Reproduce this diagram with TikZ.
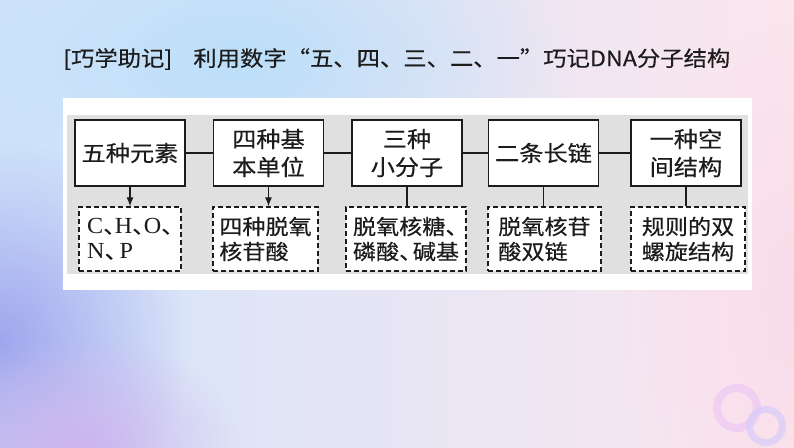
\documentclass[tikz,border=0pt]{standalone}
\usepackage{fontspec}
\newfontfamily\hanzi[FakeStretch=1.1, FakeBold=0.4]{Noto Sans CJK SC}
\newfontfamily\latin[FakeStretch=1.05]{Liberation Serif}
\usepackage{xcolor}
\usetikzlibrary{arrows.meta, positioning, calc, fadings}

\definecolor{inkline}{HTML}{1C1C1C}
\definecolor{panelgray}{HTML}{E0E0E0}
\definecolor{bgleft}{HTML}{D2E5FB}
\definecolor{bgmid}{HTML}{E2EFFC}
\definecolor{bgright}{HTML}{FCE6EE}
\definecolor{bgblue}{HTML}{BCDFFA}
\definecolor{bgviolet}{HTML}{A0A6EE}
\definecolor{bgrose}{HTML}{CDB4EE}
\definecolor{bgpink}{HTML}{F9DCEA}
\definecolor{ringpink}{HTML}{EFC8F5}
\definecolor{ringviolet}{HTML}{D8CCFA}

\tikzfading[name=softglow, inner color=transparent!0, outer color=transparent!100]
\newcommand\dun{、\kern-.45em}
\newcommand\ldun{、\kern-.55em}
\newcommand\el[1]{{\latin\fontsize{23}{25}\selectfont #1}}

\begin{document}
\begin{tikzpicture}[x=1pt, y=-1pt,
    mainbox/.style={draw=inkline, line width=1.3pt, fill=white, minimum width=110pt,
        minimum height=66pt, inner sep=2pt, align=center, text=inkline,
        font=\hanzi\fontsize{22}{28}\selectfont},
    notebox/.style={draw=inkline, line width=1.3pt, dash pattern=on 5pt off 3pt,
        fill=white, minimum height=64pt, inner sep=2pt, align=left, text=inkline,
        font=\hanzi\fontsize{21}{25}\selectfont},
    link/.style={draw=inkline, line width=1.1pt}]
    \useasboundingbox (0,0) rectangle (794,447);
    \begin{scope}
        \clip (0,0) rectangle (794,447);
        \shade[left color=bgleft, middle color=bgmid, right color=bgright] (0,0) rectangle (794,447);
        \fill[bgblue, path fading=softglow] (240,60) ellipse [x radius=330pt, y radius=190pt];
        \fill[bgviolet, path fading=softglow] (0,340) ellipse [x radius=190pt, y radius=200pt];
        \fill[bgrose, path fading=softglow] (80,447) ellipse [x radius=160pt, y radius=110pt];
        \fill[bgpink, path fading=softglow] (794,300) ellipse [x radius=170pt, y radius=280pt];
    \end{scope}
    \draw[ringpink, line width=8pt, opacity=.7] (737,408) circle[radius=20pt];
    \draw[ringviolet, line width=7pt, opacity=.7] (766,426) circle[radius=16.5pt];

    \node[anchor=west, inner sep=0pt, text=inkline, font=\hanzi\fontsize{21.2}{25}\selectfont] (title) at (63,59)
        {[巧学助记]\hspace{1em}利用数字“五、四、三、二、一”巧记DNA分子结构};

    \fill[white] (63,98) rectangle (752,290);
    \fill[panelgray] (67,115) rectangle (748,274);

    \node[mainbox] (elem) at (130,153) {五种元素};
    \node[mainbox] (unit) at (268.5,153) {四种基\\本单位};
    \node[mainbox] (small) at (407,153) {三种\\小分子};
    \node[mainbox] (chain) at (543.5,153) {二条长链};
    \node[mainbox] (space) at (686,153) {一种空\\间结构};

    \node[notebox, minimum width=102pt] (elemnote) at (130,239)
        {\el{C}\ldun\el{H}\ldun\el{O}\ldun\\\el{N}\ldun\,\el{P}};
    \node[notebox, minimum width=105pt] (unitnote) at (265.5,239) {四种脱氧\\核苷酸};
    \node[notebox, minimum width=120pt] (smallnote) at (406,239) {脱氧核糖\dun\\磷酸\dun 碱基};
    \node[notebox, minimum width=113pt] (chainnote) at (544.5,239) {脱氧核苷\\酸双链};
    \node[notebox, minimum width=114pt] (spacenote) at (688,239) {规则的双\\螺旋结构};

    \foreach \a/\b in {elem/unit, unit/small, small/chain, chain/space}
        \draw[link] (\a) -- (\b);
    \foreach \a in {elem, unit}
        \draw[link, -{Latex[length=9pt, width=7pt]}] (\a) -- (\a |- \a note.north);
    \foreach \a in {small, chain, space}
        \draw[link] (\a) -- (\a |- \a note.north);
\end{tikzpicture}
\end{document}
